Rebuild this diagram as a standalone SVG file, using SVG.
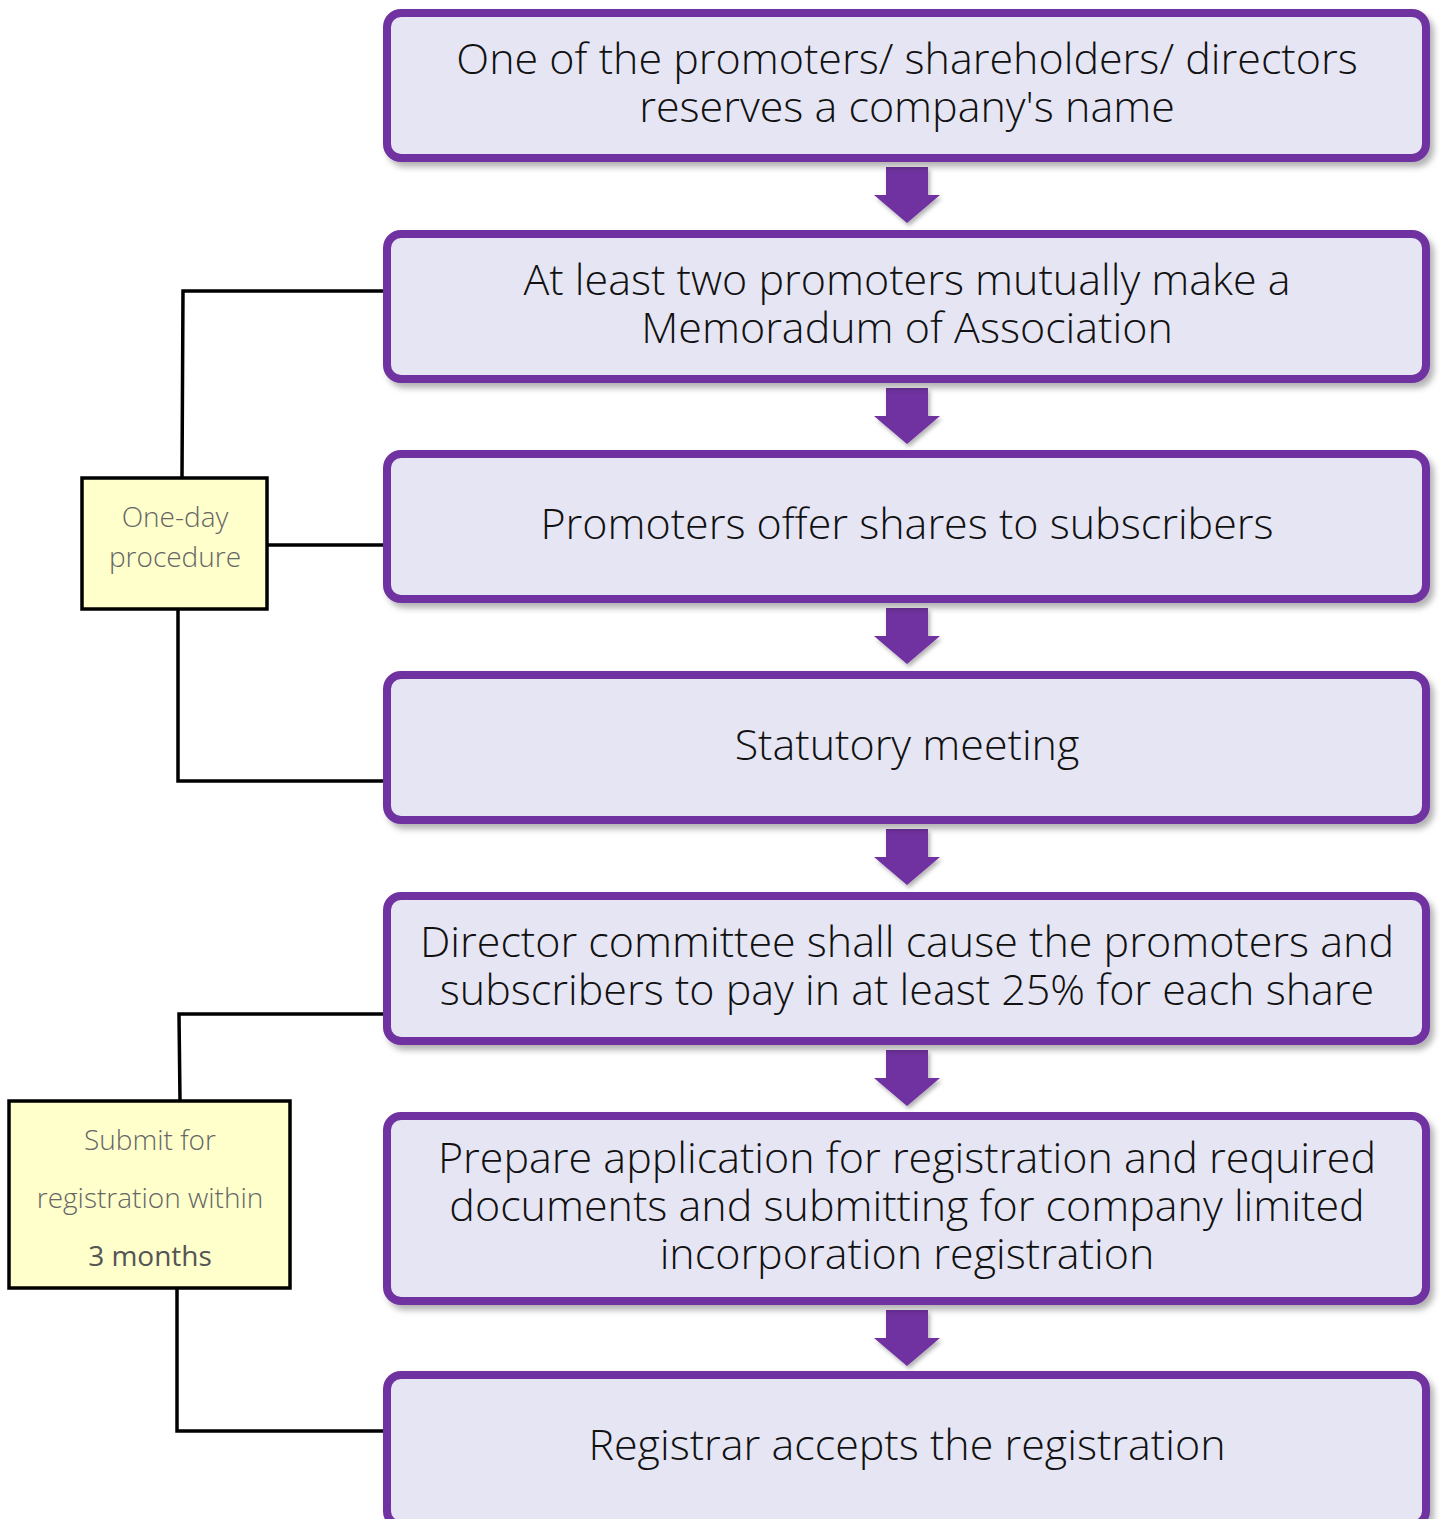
<svg xmlns="http://www.w3.org/2000/svg" width="1440" height="1519" viewBox="0 0 1440 1519">
<defs>
<style>
.step{fill:#E6E5F4;stroke:#7030A0;stroke-width:8;filter:url(#sh)}
.st{font-family:"Open Sans","Noto Sans",sans-serif;font-weight:300;font-size:43px;fill:#111;text-anchor:middle}
.note{fill:#FFFFCC;stroke:#000;stroke-width:3.5}
.nt{font-family:"Open Sans","Noto Sans",sans-serif;font-weight:300;font-size:28px;fill:#666;text-anchor:middle}
.nb{font-weight:400;fill:#555}
.con{fill:none;stroke:#000;stroke-width:3.5}
.arr{fill:#7030A0;filter:url(#sh2)}
</style>
<filter id="sh" x="-5%" y="-10%" width="110%" height="130%">
<feDropShadow dx="4" dy="5" stdDeviation="3" flood-color="#000" flood-opacity="0.3"/>
</filter>
<filter id="sh2" x="-20%" y="-20%" width="140%" height="150%">
<feDropShadow dx="2" dy="3" stdDeviation="2" flood-color="#000" flood-opacity="0.3"/>
</filter>
<path id="dn" d="M-21,0 H21 V28 H33 L0,56 L-33,28 H-21 Z"/>
</defs>
<rect width="1440" height="1519" fill="#fff"/>

<g id="connectors">
<polyline class="con" points="385,291 183,291 182,477"/>
<line class="con" x1="268" y1="545" x2="385" y2="545"/>
<polyline class="con" points="178,610 178,781 385,781"/>
<polyline class="con" points="385,1014 179,1014 180,1100"/>
<polyline class="con" points="177,1289 177,1431 385,1431"/>
<use href="#dn" class="arr" x="907" y="167"/>
<use href="#dn" class="arr" x="907" y="388"/>
<use href="#dn" class="arr" x="907" y="608"/>
<use href="#dn" class="arr" x="907" y="829"/>
<use href="#dn" class="arr" x="907" y="1050"/>
<use href="#dn" class="arr" x="907" y="1310"/>
</g>

<g id="step1">
<rect class="step" x="387" y="13" width="1039" height="145" rx="14"/>
<text class="st" x="907" y="74">One of the promoters/ shareholders/ directors</text>
<text class="st" x="907" y="122">reserves a company's name</text>
</g>
<g id="step2">
<rect class="step" x="387" y="234" width="1039" height="145" rx="14"/>
<text class="st" x="907" y="295">At least two promoters mutually make a</text>
<text class="st" x="907" y="343">Memoradum of Association</text>
</g>
<g id="step3">
<rect class="step" x="387" y="454" width="1039" height="145" rx="14"/>
<text class="st" x="907" y="539">Promoters offer shares to subscribers</text>
</g>
<g id="step4">
<rect class="step" x="387" y="675" width="1039" height="145" rx="14"/>
<text class="st" x="907" y="760">Statutory meeting</text>
</g>
<g id="step5">
<rect class="step" x="387" y="896" width="1039" height="145" rx="14"/>
<text class="st" x="907" y="957">Director committee shall cause the promoters and</text>
<text class="st" x="907" y="1005">subscribers to pay in at least 25% for each share</text>
</g>
<g id="step6">
<rect class="step" x="387" y="1116" width="1039" height="185" rx="14"/>
<text class="st" x="907" y="1173">Prepare application for registration and required</text>
<text class="st" x="907" y="1221">documents and submitting for company limited</text>
<text class="st" x="907" y="1269">incorporation registration</text>
</g>
<g id="step7">
<rect class="step" x="387" y="1375" width="1039" height="150" rx="14"/>
<text class="st" x="907" y="1460">Registrar accepts the registration</text>
</g>

<g id="note1">
<rect class="note" x="82" y="478" width="185" height="131"/>
<text class="nt" x="175" y="527">One-day</text>
<text class="nt" x="175" y="567">procedure</text>
</g>
<g id="note2">
<rect class="note" x="9" y="1101" width="281" height="187"/>
<text class="nt" x="150" y="1150">Submit for</text>
<text class="nt" x="150" y="1208">registration within</text>
<text class="nt nb" x="150" y="1266">3 months</text>
</g>
</svg>
